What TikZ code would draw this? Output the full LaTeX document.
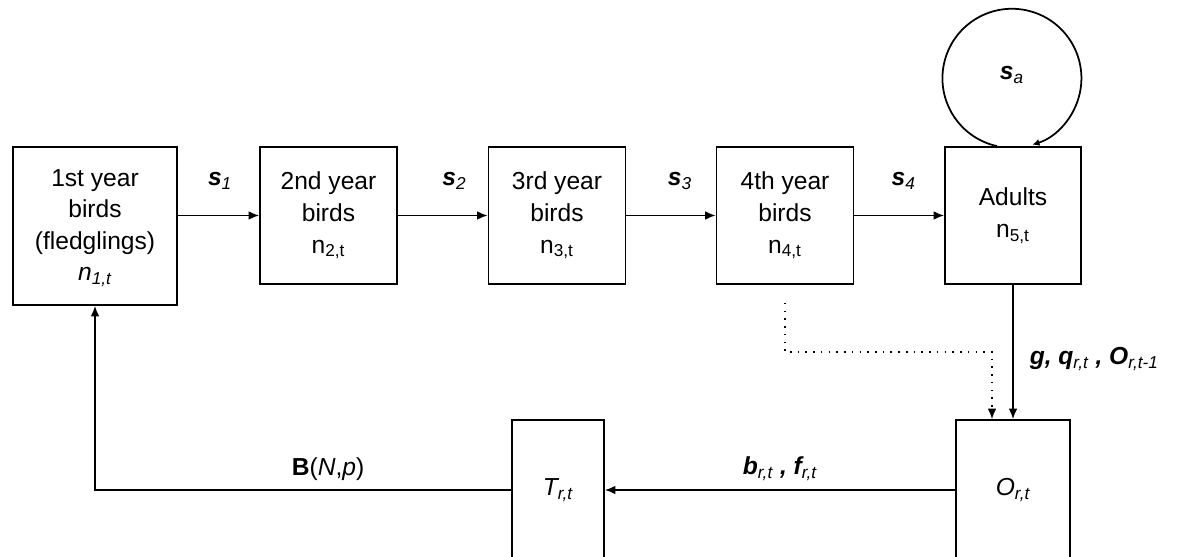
\documentclass[tikz,border=0pt]{standalone}
\usepackage{fontspec}
\setmainfont{Liberation Sans}
\usetikzlibrary{positioning,arrows.meta}
\tikzset{
  box/.style={draw, line width=1pt, minimum width=2.74cm, minimum height=2.74cm,
    align=center, inner sep=0pt, font=\fontsize{14}{18}\selectfont},
  lbl/.style={font=\fontsize{14}{17}\selectfont\bfseries\itshape},
  obsdots/.style={line width=0.9pt, dash pattern=on 0.9pt off 3.5pt}
}
\newcommand{\sbs}[1]{\textsubscript{\mdseries\itshape #1}}
\begin{document}
\begin{tikzpicture}[x=0.02cm, y=0.02cm, >={Latex[length=6pt,width=5pt]}, line width=1pt]
\useasboundingbox (0,0) rectangle (1199,557);
\clip (0,0) rectangle (1199,557);

% age classes
\node[box, minimum width=3.28cm, minimum height=3.16cm] (b1) at (95,331)
  {\\[-6pt]1st year\\birds\\(fledglings)\\\textit{n\textsubscript{1,t}}};
\node[box] (b2) at (328.5,341.5) {2nd year\\birds\\n\textsubscript{2,t}};
\node[box] (b3) at (557,341.5) {3rd year\\birds\\n\textsubscript{3,t}};
\node[box] (b4) at (785,341.5) {4th year\\birds\\n\textsubscript{4,t}};
\node[box, minimum width=2.72cm] (b5) at (1013,341.5) {Adults\\n\textsubscript{5,t}};

% observation and recovery
\node[box, minimum width=2.28cm, minimum height=2.8cm] (obs) at (1013,67) {\textit{O\textsubscript{r,t}}};
\node[box, minimum width=1.84cm, minimum height=2.8cm] (rec) at (558,67) {\textit{T\textsubscript{r,t}}};

\draw[->] (b1.east |- b2) -- node[lbl, above=0.38cm, pos=0.52] {s\sbs{1}} (b2.west);
\draw[->] (b2) -- node[lbl, above=0.38cm, pos=0.63] {s\sbs{2}} (b3);
\draw[->] (b3) -- node[lbl, above=0.38cm, pos=0.6] {s\sbs{3}} (b4);
\draw[->] (b4) -- node[lbl, above=0.38cm, pos=0.55] {s\sbs{4}} (b5);

% adult survival loop
\draw[-{Latex[length=4pt,width=4pt]}] ([xshift=-0.32cm]b5.north) arc[start angle=257.6, end angle=-72.8, radius=1.39cm];
\node[lbl] (sa) at (1012,482) {s\sbs{a}};

\draw[->] (b5) -- node[lbl, right=0.2cm, pos=0.55] {g, q\sbs{r,t} , O\sbs{r,t-1}} (obs);

\coordinate (bend) at (992,205);
\draw[obsdots, ->] ([yshift=-0.36cm]b4.south) |- (bend) -- (bend |- obs.north);

\draw[->] (obs) -- node[lbl, above=0.05cm] {b\sbs{r,t} , f\sbs{r,t}} (rec);
\draw[->] (rec) -| node[above=0.05cm, pos=0.22, font=\fontsize{14}{17}\selectfont]
  {\textbf{B}(\textit{N},\textit{p})} (b1.south);

\end{tikzpicture}
\end{document}
